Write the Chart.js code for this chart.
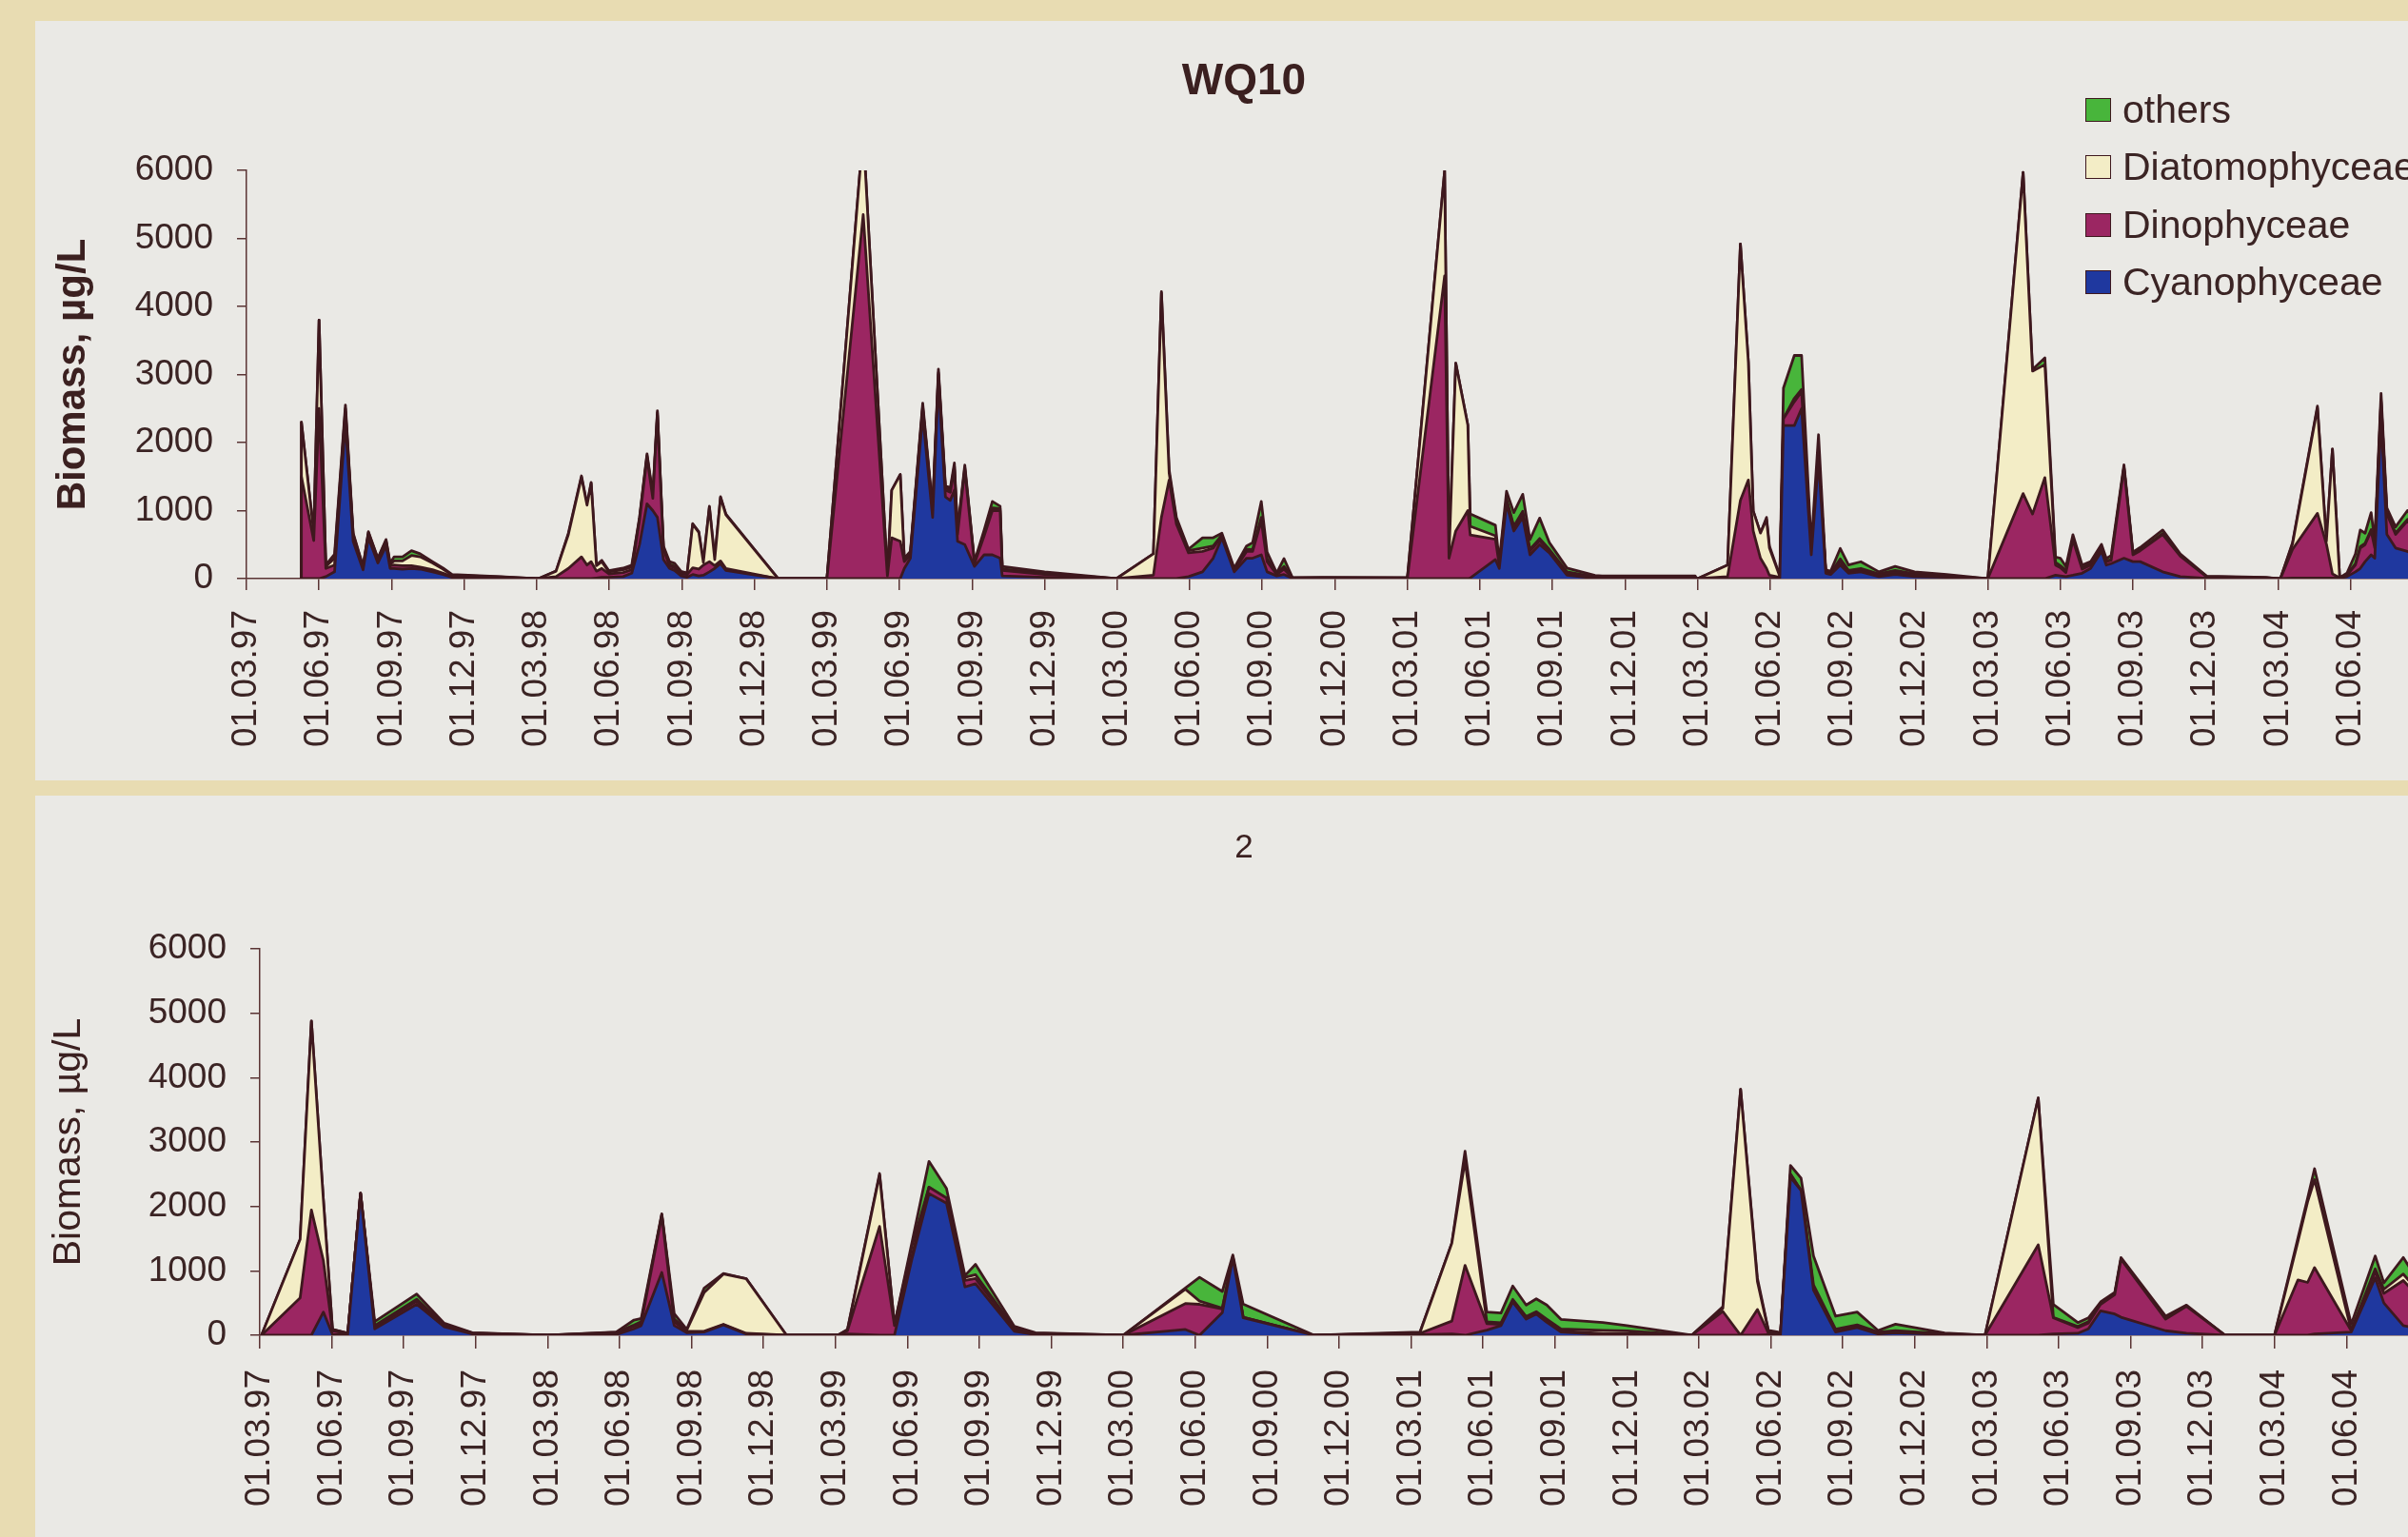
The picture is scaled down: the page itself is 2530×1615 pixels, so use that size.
<!DOCTYPE html>
<html>
<head>
<meta charset="utf-8">
<title>Phytoplankton biomass WQ10 / 2</title>
<script src="https://cdn.jsdelivr.net/npm/chart.js@4.4.1/dist/chart.umd.min.js"></script>
<style>
  html, body { margin: 0; padding: 0; width: 2530px; height: 1615px; overflow: hidden; background: #e8dcb2; }
  .panel { position: absolute; left: 37px; right: 0; background: #eae9e5; }
  #p1 { top: 22px; height: 798px; }
  #p2 { top: 836px; bottom: 0; }
  canvas { position: absolute; left: 0; }
  #c1 { top: 0; }
  #c2 { top: 836px; }
  #legend { position: absolute; left: 2191px; top: 85px; font: 41px 'Liberation Sans', Arial, sans-serif; color: #3b2424; white-space: nowrap; }
  #legend .item { height: 60.5px; display: flex; align-items: center; }
  #legend .box { width: 27px; height: 25px; box-sizing: border-box; border: 1.5px solid #3e181e; margin-right: 12px; }
</style>
</head>
<body>
<div class="panel" id="p1"></div>
<div class="panel" id="p2"></div>
<canvas id="c1" width="2614" height="820"></canvas>
<canvas id="c2" width="2614" height="779"></canvas>
<div id="legend"></div>
<script>
// x values are months counted from 01.03.97
const tickLabels = [
  '01.03.97','01.06.97','01.09.97','01.12.97',
  '01.03.98','01.06.98','01.09.98','01.12.98',
  '01.03.99','01.06.99','01.09.99','01.12.99',
  '01.03.00','01.06.00','01.09.00','01.12.00',
  '01.03.01','01.06.01','01.09.01','01.12.01',
  '01.03.02','01.06.02','01.09.02','01.12.02',
  '01.03.03','01.06.03','01.09.03','01.12.03',
  '01.03.04','01.06.04'
];
const yTickLabels = ['0','1000','2000','3000','4000','5000','6000'];

const seriesNames = ['Cyanophyceae', 'Dinophyceae', 'Diatomophyceae', 'others'];
const seriesColors = ['#1f389f', '#9b2662', '#f3edc6', '#48b53b'];

// ---- WQ10 ----
const monthsTop = [
  2.25,2.27,2.78,3.0,3.28,3.64,4.09,4.41,4.82,5.04,5.43,5.77,5.94,6.1,6.45,6.82,7.18,7.69,8.13,8.5,10.5,11.95,
  12.07,12.8,13.31,13.85,14.08,14.25,14.47,14.69,14.98,15.57,15.93,16.25,16.56,16.8,16.99,17.24,17.49,17.7,17.97,18.22,18.45,18.7,18.89,19.14,19.36,19.6,19.82,21.98,
  24.0,25.5,26.5,26.68,27.03,27.2,27.45,27.96,28.37,28.61,28.9,29.1,29.27,29.4,29.7,30.1,30.5,30.84,31.16,31.25,33.0,35.97,
  37.5,37.83,38.15,38.45,38.95,39.53,39.97,40.33,40.84,41.35,41.6,41.96,42.2,42.6,42.9,43.25,44.5,47.95,
  48.0,49.54,49.72,50.0,50.5,50.6,51.64,51.8,52.1,52.4,52.77,53.07,53.47,53.87,54.6,55.76,56.05,59.9,59.95,
  60.0,61.24,61.77,62.1,62.3,62.6,62.85,62.97,63.4,63.55,64.0,64.3,64.7,65.0,65.3,65.5,65.9,66.24,66.75,67.5,68.17,68.97,70.3,71.96,
  72.0,73.46,73.85,74.36,74.8,75.0,75.23,75.52,75.9,76.25,76.7,76.9,77.1,77.63,78.0,78.3,79.23,79.96,81.05,83.5,83.97,
  84.1,84.6,85.63,86.0,86.25,86.55,86.85,87.2,87.4,87.6,87.85,88.0,88.26,88.5,88.86,89.35,90.0
];
const cyanTop = [
  0,0,0,0,30,100,2300,550,130,600,230,480,150,150,140,150,140,100,60,20,10,0,
  0,0,0,0,0,0,10,20,20,30,80,500,1100,1000,900,280,150,120,40,20,60,40,50,100,150,220,120,0,
  0,0,0,0,0,150,300,2400,900,2900,1200,1150,1300,550,500,180,350,350,300,40,20,0,
  0,0,0,0,30,100,300,600,100,300,300,350,100,40,60,5,5,5,
  0,0,0,0,0,10,280,150,1100,700,900,350,500,380,50,5,10,10,0,
  0,0,0,0,0,0,0,0,10,2250,2250,2500,350,1750,80,60,200,80,100,30,60,30,20,0,
  0,0,0,0,50,40,30,50,80,150,400,200,220,300,250,250,100,30,5,5,0,
  0,10,10,10,10,5,30,100,150,250,350,300,2350,650,450,400,300
];
const dinoTop = [
  0,1500,560,2500,120,100,150,60,20,50,30,50,40,50,50,40,30,30,20,10,5,0,
  0,30,150,320,200,250,100,130,50,60,50,350,680,180,1500,150,40,40,30,40,100,100,150,150,40,40,30,0,
  0,5350,40,600,550,100,50,100,80,100,100,120,300,100,1100,40,280,650,700,80,40,0,
  50,900,1450,800,350,300,150,30,20,100,100,500,150,20,80,5,5,4,
  0,4450,300,700,1000,630,300,50,50,50,60,60,60,30,30,10,10,10,0,
  0,30,1150,1450,700,300,150,50,10,100,350,250,30,50,10,10,50,20,30,20,30,20,10,0,
  0,1250,950,1485,150,120,60,520,60,50,50,50,50,1330,100,160,550,300,20,5,0,
  0,420,950,500,60,5,20,100,300,250,350,150,250,300,200,450,300
];
const diatTop = [
  0,800,110,1300,30,100,50,40,20,30,30,30,20,60,70,150,150,100,60,20,10,0,
  0,80,500,1170,880,1150,80,100,30,40,40,30,30,30,40,30,20,20,20,14,640,540,40,800,90,930,790,0,
  0,1224,10,700,980,30,20,30,30,30,30,30,50,30,30,15,25,40,30,20,20,0,
  315,3300,100,60,30,50,30,10,10,30,28,50,40,10,40,2,5,3,
  0,1540,18,2466,1255,130,50,20,20,20,30,20,30,20,20,10,10,10,0,
  0,170,3768,1730,295,370,720,400,10,0,50,30,0,0,10,10,40,20,20,20,30,20,10,0,
  0,4720,2100,1660,40,30,30,30,20,20,20,10,10,10,10,10,14,10,5,5,0,
  0,80,1550,40,1835,4,10,20,20,20,20,10,20,20,20,20,20
];
const othersTop = [
  0,0,0,0,20,60,50,20,10,10,10,15,15,60,60,70,45,20,15,10,5,0,
  0,0,20,20,10,15,10,20,17,24,30,20,25,20,26,20,40,45,17,10,8,10,10,15,14,15,10,0,
  0,0,0,0,0,20,30,50,30,50,40,30,50,35,40,15,60,95,35,40,20,0,
  0,17,50,40,24,150,120,28,24,50,100,235,100,14,114,2,5,3,
  0,0,0,0,0,180,155,30,115,200,250,145,300,100,55,22,10,10,0,
  0,0,0,0,0,0,30,30,10,450,630,500,100,315,30,27,154,80,98,30,60,30,20,0,
  0,0,23,100,78,110,57,45,40,30,35,34,60,32,28,38,50,24,7,5,0,
  0,18,26,0,0,0,20,144,244,148,251,90,102,70,90,130,80
];

// ---- station 2 ----
const monthsBot = [
  0.07,1.68,2.15,2.65,3.03,3.59,3.66,4.2,4.79,6.54,7.69,8.86,12.0,
  14.86,15.6,15.9,16.76,17.28,17.8,18.52,19.33,20.28,21.96,
  24.1,24.5,25.84,26.46,27.2,27.9,28.63,29.4,29.84,31.46,32.34,36.0,
  38.59,39.18,40.13,40.57,41.0,43.96,
  48.37,49.7,50.25,51.16,51.75,52.24,52.8,53.22,53.66,54.25,56.0,57.0,59.7,
  61.0,61.74,62.44,62.9,63.3,63.4,63.82,64.26,64.78,65.7,66.6,67.47,68.2,70.25,71.93,
  74.15,74.78,75.8,76.24,76.75,77.34,77.6,79.46,80.33,81.94,
  84.0,84.98,85.38,85.67,87.2,88.2,88.56,89.37,90.0
];
const cyanBot = [
  0,0,0,360,10,10,0,2200,100,480,130,20,0,
  10,100,150,975,150,40,50,160,20,0,
  0,20,0,0,1200,2200,2050,750,800,60,10,0,
  89,0,350,1200,270,0,
  10,20,0,80,150,517,250,330,200,50,10,10,0,
  0,0,0,10,10,0,2450,2250,700,50,120,20,40,10,0,
  0,20,30,100,380,330,280,70,30,0,
  0,0,0,20,50,890,500,150,100
];
const dinoBot = [
  0,580,1945,800,60,20,0,5,30,50,20,10,0,
  25,40,40,880,60,20,10,10,10,0,
  0,50,1690,150,50,100,80,100,80,30,10,0,
  404,480,60,20,10,0,
  20,200,1085,100,20,20,20,20,30,16,17,18,0,
  370,0,400,20,10,0,50,0,20,10,10,10,10,5,0,
  1404,250,90,90,100,300,900,180,420,0,
  0,860,820,1030,20,100,150,700,500
];
const diatBot = [
  0,910,2935,940,20,10,0,0,20,30,10,5,0,
  10,20,20,20,40,20,600,780,847,0,
  0,10,800,13,150,0,0,50,60,20,10,0,
  221,50,10,0,0,0,
  10,1210,1622,30,25,20,20,16,20,30,50,40,0,
  50,3818,437,34,20,0,0,0,60,36,30,20,22,10,0,
  2280,8,17,20,7,5,0,0,0,0,
  0,600,1250,1366,2,41,63,100,80
];
const othersBot = [
  0,0,0,0,0,0,0,2,62,80,27,5,0,
  5,76,50,12,85,10,69,10,0,0,
  0,9,22,0,58,400,150,26,160,28,10,0,
  20,370,260,26,203,0,
  10,0,150,150,150,207,180,200,220,150,120,80,0,
  23,0,50,10,10,0,135,190,450,200,200,24,100,10,0,
  0,200,60,60,30,30,27,46,18,0,
  0,52,58,170,100,200,100,257,150
];

Chart.defaults.font.family = "'Liberation Sans', Arial, sans-serif";
Chart.defaults.color = '#3b2424';
const outline = '#3e181e';
const axisColor = '#5a3434';

function buildDatasets(months, series) {
  return series.map((vals, i) => ({
    label: seriesNames[i],
    data: months.map((m, j) => ({ x: m, y: vals[j] })),
    backgroundColor: seriesColors[i],
    borderColor: outline,
    borderWidth: 2.8,
    borderJoinStyle: 'round',
    pointRadius: 0,
    tension: 0,
    fill: i === 0 ? 'origin' : '-1'
  }));
}

function xTick(v) {
  const i = Math.round(v / 3);
  if (Math.abs(v - i * 3) > 1e-6 || i >= tickLabels.length) return '';
  return tickLabels[i];
}

function makeChart(id, cfg) {
  return new Chart(document.getElementById(id), {
    type: 'line',
    data: { datasets: buildDatasets(cfg.months, cfg.series) },
    options: {
      responsive: false,
      animation: false,
      devicePixelRatio: 1,
      events: [],
      layout: { padding: 0, autoPadding: false },
      plugins: {
        legend: { display: false },
        tooltip: { enabled: false },
        title: {
          display: true,
          text: cfg.title,
          color: '#3b2020',
          font: cfg.titleFont,
          padding: cfg.titlePad
        }
      },
      scales: {
        x: {
          type: 'linear',
          min: 0,
          max: cfg.xMax,
          border: { color: axisColor, width: 1.5 },
          grid: { drawOnChartArea: false, color: axisColor, lineWidth: 1.5, tickLength: cfg.xTickLen },
          ticks: {
            stepSize: 3,
            autoSkip: false,
            includeBounds: false,
            minRotation: 90,
            maxRotation: 90,
            padding: cfg.xPad,
            font: { size: 37 },
            callback: xTick
          },
          afterFit: s => { s.height = cfg.xHeight; }
        },
        y: {
          stacked: true,
          min: 0,
          max: 6000,
          border: { color: axisColor, width: 1.5 },
          grid: { drawOnChartArea: false, color: axisColor, lineWidth: 1.5, tickLength: 10 },
          ticks: {
            stepSize: 1000,
            padding: 25,
            font: { size: 37 },
            callback: v => yTickLabels[Math.round(v / 1000)]
          },
          title: {
            display: true,
            text: 'Biomass, µg/L',
            color: '#3b2020',
            font: cfg.yTitleFont,
            padding: { top: cfg.yTitlePad, bottom: 0 }
          },
          afterFit: s => { s.width = cfg.yWidth; }
        }
      }
    }
  });
}

makeChart('c1', {
  months: monthsTop,
  series: [cyanTop, dinoTop, diatTop, othersTop],
  title: 'WQ10',
  titleFont: { size: 46, weight: 'bold', lineHeight: 1.2 },
  titlePad: { top: 58.4, bottom: 65.4 },
  xMax: 92.68,
  xTickLen: 12,
  xPad: 21,
  xHeight: 212,
  yWidth: 259,
  yTitleFont: { size: 42, weight: 'bold', lineHeight: 1.2 },
  yTitlePad: 52
});

makeChart('c2', {
  months: monthsBot,
  series: [cyanBot, dinoBot, diatBot, othersBot],
  title: '2',
  titleFont: { size: 35, weight: 'normal', lineHeight: 1.2 },
  titlePad: { top: 34, bottom: 85 },
  xMax: 92.9,
  xTickLen: 14,
  xPad: 22,
  xHeight: 212,
  yWidth: 273,
  yTitleFont: { size: 41, weight: 'normal', lineHeight: 1.2 },
  yTitlePad: 48
});

// legend (top chart only), listed top layer first
const legend = document.getElementById('legend');
for (let i = seriesNames.length - 1; i >= 0; i--) {
  const row = document.createElement('div');
  row.className = 'item';
  const box = document.createElement('span');
  box.className = 'box';
  box.style.background = seriesColors[i];
  row.appendChild(box);
  row.appendChild(document.createTextNode(seriesNames[i]));
  legend.appendChild(row);
}
</script>
</body>
</html>
